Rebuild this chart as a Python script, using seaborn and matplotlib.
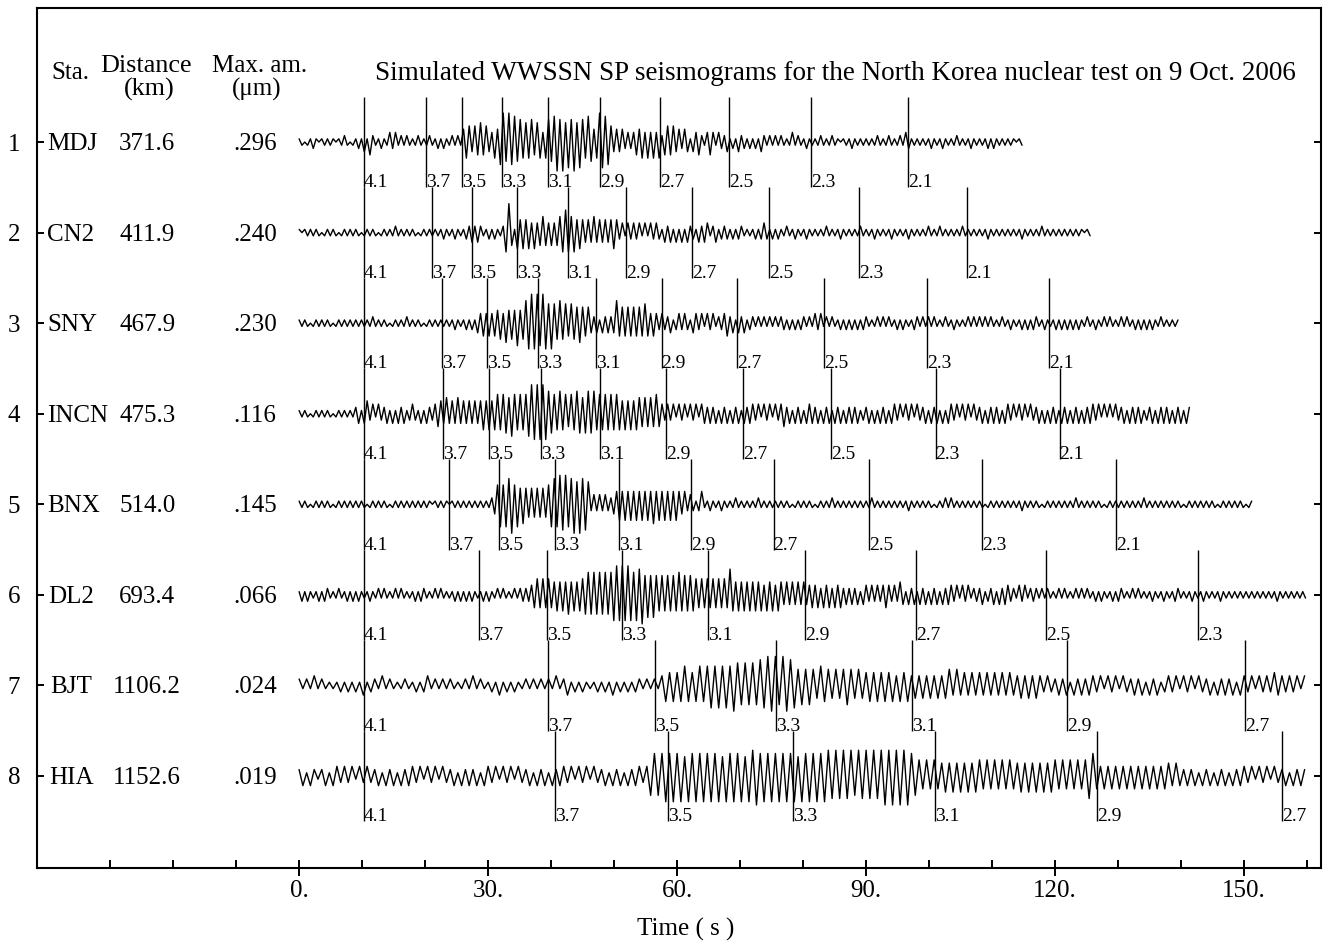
import numpy as np
import pandas as pd
import matplotlib
matplotlib.use("Agg")
import matplotlib.pyplot as plt
import seaborn as sns

# Station table
STATIONS = ["MDJ", "CN2", "SNY", "INCN", "BNX", "DL2", "BJT", "HIA"]
DISTANCE_KM = [371.6, 411.9, 467.9, 475.3, 514.0, 693.4, 1106.2, 1152.6]
MAX_AMP_UM = [".296", ".240", ".230", ".116", ".145", ".066", ".024", ".019"]

# Group-velocity markers (km/s); each station shows the first N of them
VELOCITIES = [4.1, 3.7, 3.5, 3.3, 3.1, 2.9, 2.7, 2.5, 2.3, 2.1]
N_MARKERS = [10, 10, 10, 10, 10, 9, 7, 7]
T_REF = 10.3  # plotted time of the 4.1 km/s arrival (s)

# Seismogram traces: successive swing amplitudes (0-9, 9 = station maximum),
# alternating up/down, one swing every SAMPLE_STEP seconds
SAMPLE_STEP = [0.45, 0.45, 0.45, 0.45, 0.45, 0.45, 0.6, 0.6]

TRACE_MDJ = (
    "1101121011" "1110112101" "1213142112" "1132312121" "1121112112"
    "1211212145" "5354645335" "4796978675" "6574653576" "8979687968"
    "7586459887" "5343423234" "4535353524" "5453424313" "3421343132"
    "2312132212" "1213212121" "2111312112" "1111211121" "1011121111"
    "1111211121" "1121321111" "1112111211" "1121111211" "1112121111"
    "111011"
)
TRACE_CN2 = (
    "1011111101" "1111011111" "1101111101" "1111211111" "1101111111"
    "1211121112" "2323211212" "1126941545" "4535345434" "3456765645"
    "4343534343" "4542313232" "3131323213" "2313131322" "1323312312"
    "2212122111" "1212321212" "1121121112" "1111112111" "1211111121"
    "1112111112" "1111121111" "1121112111" "1111211111" "1112111111"
    "1111121111" "1121111111" "1111111011"
)
TRACE_SNY = (
    "1111011111" "1101111111" "1111112111" "1101111121" "1111011111"
    "1111121112" "1213343434" "4536454745" "7898979868" "6575646556"
    "5453231323" "2374545454" "5464343232" "2312323213" "3231323122"
    "3423132312" "2121212121" "2212121221" "2132312121" "1212121212"
    "2111212121" "1212111221" "2121211121" "1211112121" "2121211121"
    "1211121212" "2112111212" "1212121121" "1211212111" "2121121212"
    "1211211111" "1"
)
TRACE_INCN = (
    "1111011111" "1101111111" "2313423132" "2313132312" "3213132234"
    "4353435343" "4343454545" "6566576565" "6798989876" "6575646576"
    "5676756565" "6565454545" "5454546432" "3231323132" "3133232313"
    "2313231323" "3231323132" "3423132313" "3323132313" "2313232312"
    "2313132313" "3231323132" "2313231313" "3231323132" "2313232313"
    "3231323132" "2313132313" "2313231323" "3231313132" "2313232312"
    "2313232313" "23132"
)
TRACE_BNX = (
    "1111011111" "1101111111" "1111011111" "1101111111" "1111111011"
    "1110111111" "1111111123" "6767896756" "5454545467" "8798978979"
    "8872323232" "2345454545" "4545464545" "4545434232" "1241121112"
    "1111211111" "1121111111" "1111011111" "1101111121" "1111111111"
    "1121111111" "1111121111" "1111011121" "2111111111" "1101111111"
    "1111121111" "1101111111" "1111211111" "1111011111" "1111111121"
    "1111111111" "1101111111" "1111011111" "1111011"
)
TRACE_DL2 = (
    "1212111212" "2111211212" "1211121121" "2111212111" "1212211121"
    "2111121212" "1211121211" "2121112122" "2234545454" "4545464545"
    "5676767676" "7898989878" "8967676565" "6565756565" "5454545454"
    "5485454545" "4545354535" "4343434343" "3434243424" "3423232313"
    "3232323432" "3243132313" "2313231323" "3231323122" "2312231323"
    "3221323122" "2121211121" "2111212121" "1212111212" "2111212111"
    "1211121112" "2111121112" "1111121111" "1111111111" "1111121111"
    "111111"
)
TRACE_BJT = (
    "2121312111" "1212121312" "2131211121" "1212312121" "2111213121"
    "1213121211" "2121212131" "2312121112" "1213121212" "2121213545"
    "4565456567" "6767687676" "7687989698" "8756565465" "5454565454"
    "4545454535" "4534343434" "3453534343" "4343434343" "3434343232"
    "2323132323" "3231323132" "2323132312" "3231323132" "2313232313"
    "3231323243" "3232313"
)
TRACE_HIA = (
    "2313212313" "3232313232" "2313231323" "3231323132" "2313232313"
    "3231323132" "2313231323" "3231323132" "2313231323" "3236767878"
    "7868787878" "7868787868" "8978787878" "7868787878" "8787878687"
    "8787898989" "8976545454" "4545454545" "5454545454" "4545454545"
    "5454545457" "7434343434" "3434343434" "4343232313" "2313231323"
    "3231323132" "2313232"
)
TRACES = [TRACE_MDJ, TRACE_CN2, TRACE_SNY, TRACE_INCN,
          TRACE_BNX, TRACE_DL2, TRACE_BJT, TRACE_HIA]

TITLE = "Simulated WWSSN SP seismograms for the North Korea nuclear test on 9 Oct. 2006"
X_MAJOR = [0, 30, 60, 90, 120, 150]
X_MAJOR_LABELS = ["0.", "30.", "60.", "90.", "120.", "150."]

sns.set_theme(style="ticks")
plt.rcParams["font.family"] = ["Liberation Serif", "DejaVu Serif"]
plt.rcParams["text.color"] = "black"
plt.rcParams["axes.labelcolor"] = "black"
plt.rcParams["xtick.color"] = "black"
plt.rcParams["ytick.color"] = "black"

W, H = 1337, 944
fig = plt.figure(figsize=(W / 100, H / 100), dpi=100)
ax = fig.add_axes([37 / W, 1 - 868 / H, (1321 - 37) / W, (868 - 8) / H])

SWING = 0.32  # trace half-height (in row units) at level 9

frames = []
for i, (name, levels, dt) in enumerate(zip(STATIONS, TRACES, SAMPLE_STEP)):
    amp = np.array([int(c) for c in levels], dtype=float) / 9.0
    sign = np.where(np.arange(amp.size) % 2 == 0, 1.0, -1.0)
    frames.append(pd.DataFrame({
        "station": name,
        "time": np.arange(amp.size) * dt,
        "offset": (i + 1) - sign * amp * SWING,
    }))
traces = pd.concat(frames, ignore_index=True)

sns.lineplot(data=traces, x="time", y="offset", units="station",
             estimator=None, sort=False, color="black", lw=1.0, ax=ax)

# Group-velocity arrival markers
for i, (dist, n) in enumerate(zip(DISTANCE_KM, N_MARKERS)):
    row = i + 1
    for v in VELOCITIES[:n]:
        t = dist / v - dist / VELOCITIES[0] + T_REF
        ax.vlines(t, row - 0.5, row + 0.5, color="black", lw=1.0)
        ax.text(t, row + 0.5, f"{v:.1f}", ha="left", va="baseline",
                fontsize=14, color="black")

# Station columns
BASE = 0.088
name_texts = []
for i, (name, dist, amax) in enumerate(zip(STATIONS, DISTANCE_KM, MAX_AMP_UM)):
    row = i + 1
    name_texts.append(ax.text(-36.2, row + BASE, name, ha="center",
                              va="baseline", fontsize=18))
    ax.text(-24.1, row + BASE, f"{dist:.1f}", ha="center", va="baseline", fontsize=18)
    ax.text(-7.0, row + BASE, amax, ha="center", va="baseline", fontsize=18)

ax.text(-36.3, 0.308, "Sta.", ha="center", va="baseline", fontsize=18)
ax.text(-24.3, 0.230, "Distance", ha="center", va="baseline", fontsize=18.8)
ax.text(-23.8, 0.492, "(km)", ha="center", va="baseline", fontsize=18.8)
ax.text(-6.35, 0.230, "Max. am.", ha="center", va="baseline", fontsize=18)
ax.text(-6.7, 0.492, "(μm)", ha="center", va="baseline", fontsize=18)
ax.text(85.2, 0.315, TITLE, ha="center", va="baseline", fontsize=19.5)

ax.set_xlim(-41.6, 162.2)
ax.set_ylim(9.016, -0.48)

ax.set_xticks(X_MAJOR)
ax.set_xticklabels(X_MAJOR_LABELS)
ax.set_xticks(np.arange(-30, 161, 10), minor=True)
ax.set_yticks(range(1, 9))
ax.set_yticklabels([str(k) for k in range(1, 9)])

ax.tick_params(axis="x", which="major", direction="inout", length=11,
               width=1.4, labelsize=18, pad=3, colors="black")
ax.tick_params(axis="x", which="minor", direction="in", length=6,
               width=1.4, colors="black")
ax.tick_params(axis="y", which="major", direction="in", length=5,
               width=1.4, left=True, right=True, labelsize=18, pad=12,
               colors="black")

for side in ["left", "right", "top", "bottom"]:
    ax.spines[side].set_visible(True)
    ax.spines[side].set_linewidth(1.5)
    ax.spines[side].set_color("black")

ax.set_ylabel("")
ax.set_xlabel("Time ( s )", fontsize=18, color="black")
ax.xaxis.set_label_coords((686 - 37) / (1321 - 37), -0.058)

# Keep long station names clear of the left tick marks
fig.canvas.draw()
renderer = fig.canvas.get_renderer()
min_left_px = ax.transData.transform((0, 0))[0] - 252  # just right of the tick
for txt in name_texts:
    bb = txt.get_window_extent(renderer)
    if bb.x0 < min_left_px:
        shift = min_left_px - bb.x0
        x_px, y_px = ax.transData.transform(txt.get_position())
        txt.set_position(ax.transData.inverted().transform((x_px + shift, y_px)))

fig.savefig("out.png", dpi=100, facecolor="white")
